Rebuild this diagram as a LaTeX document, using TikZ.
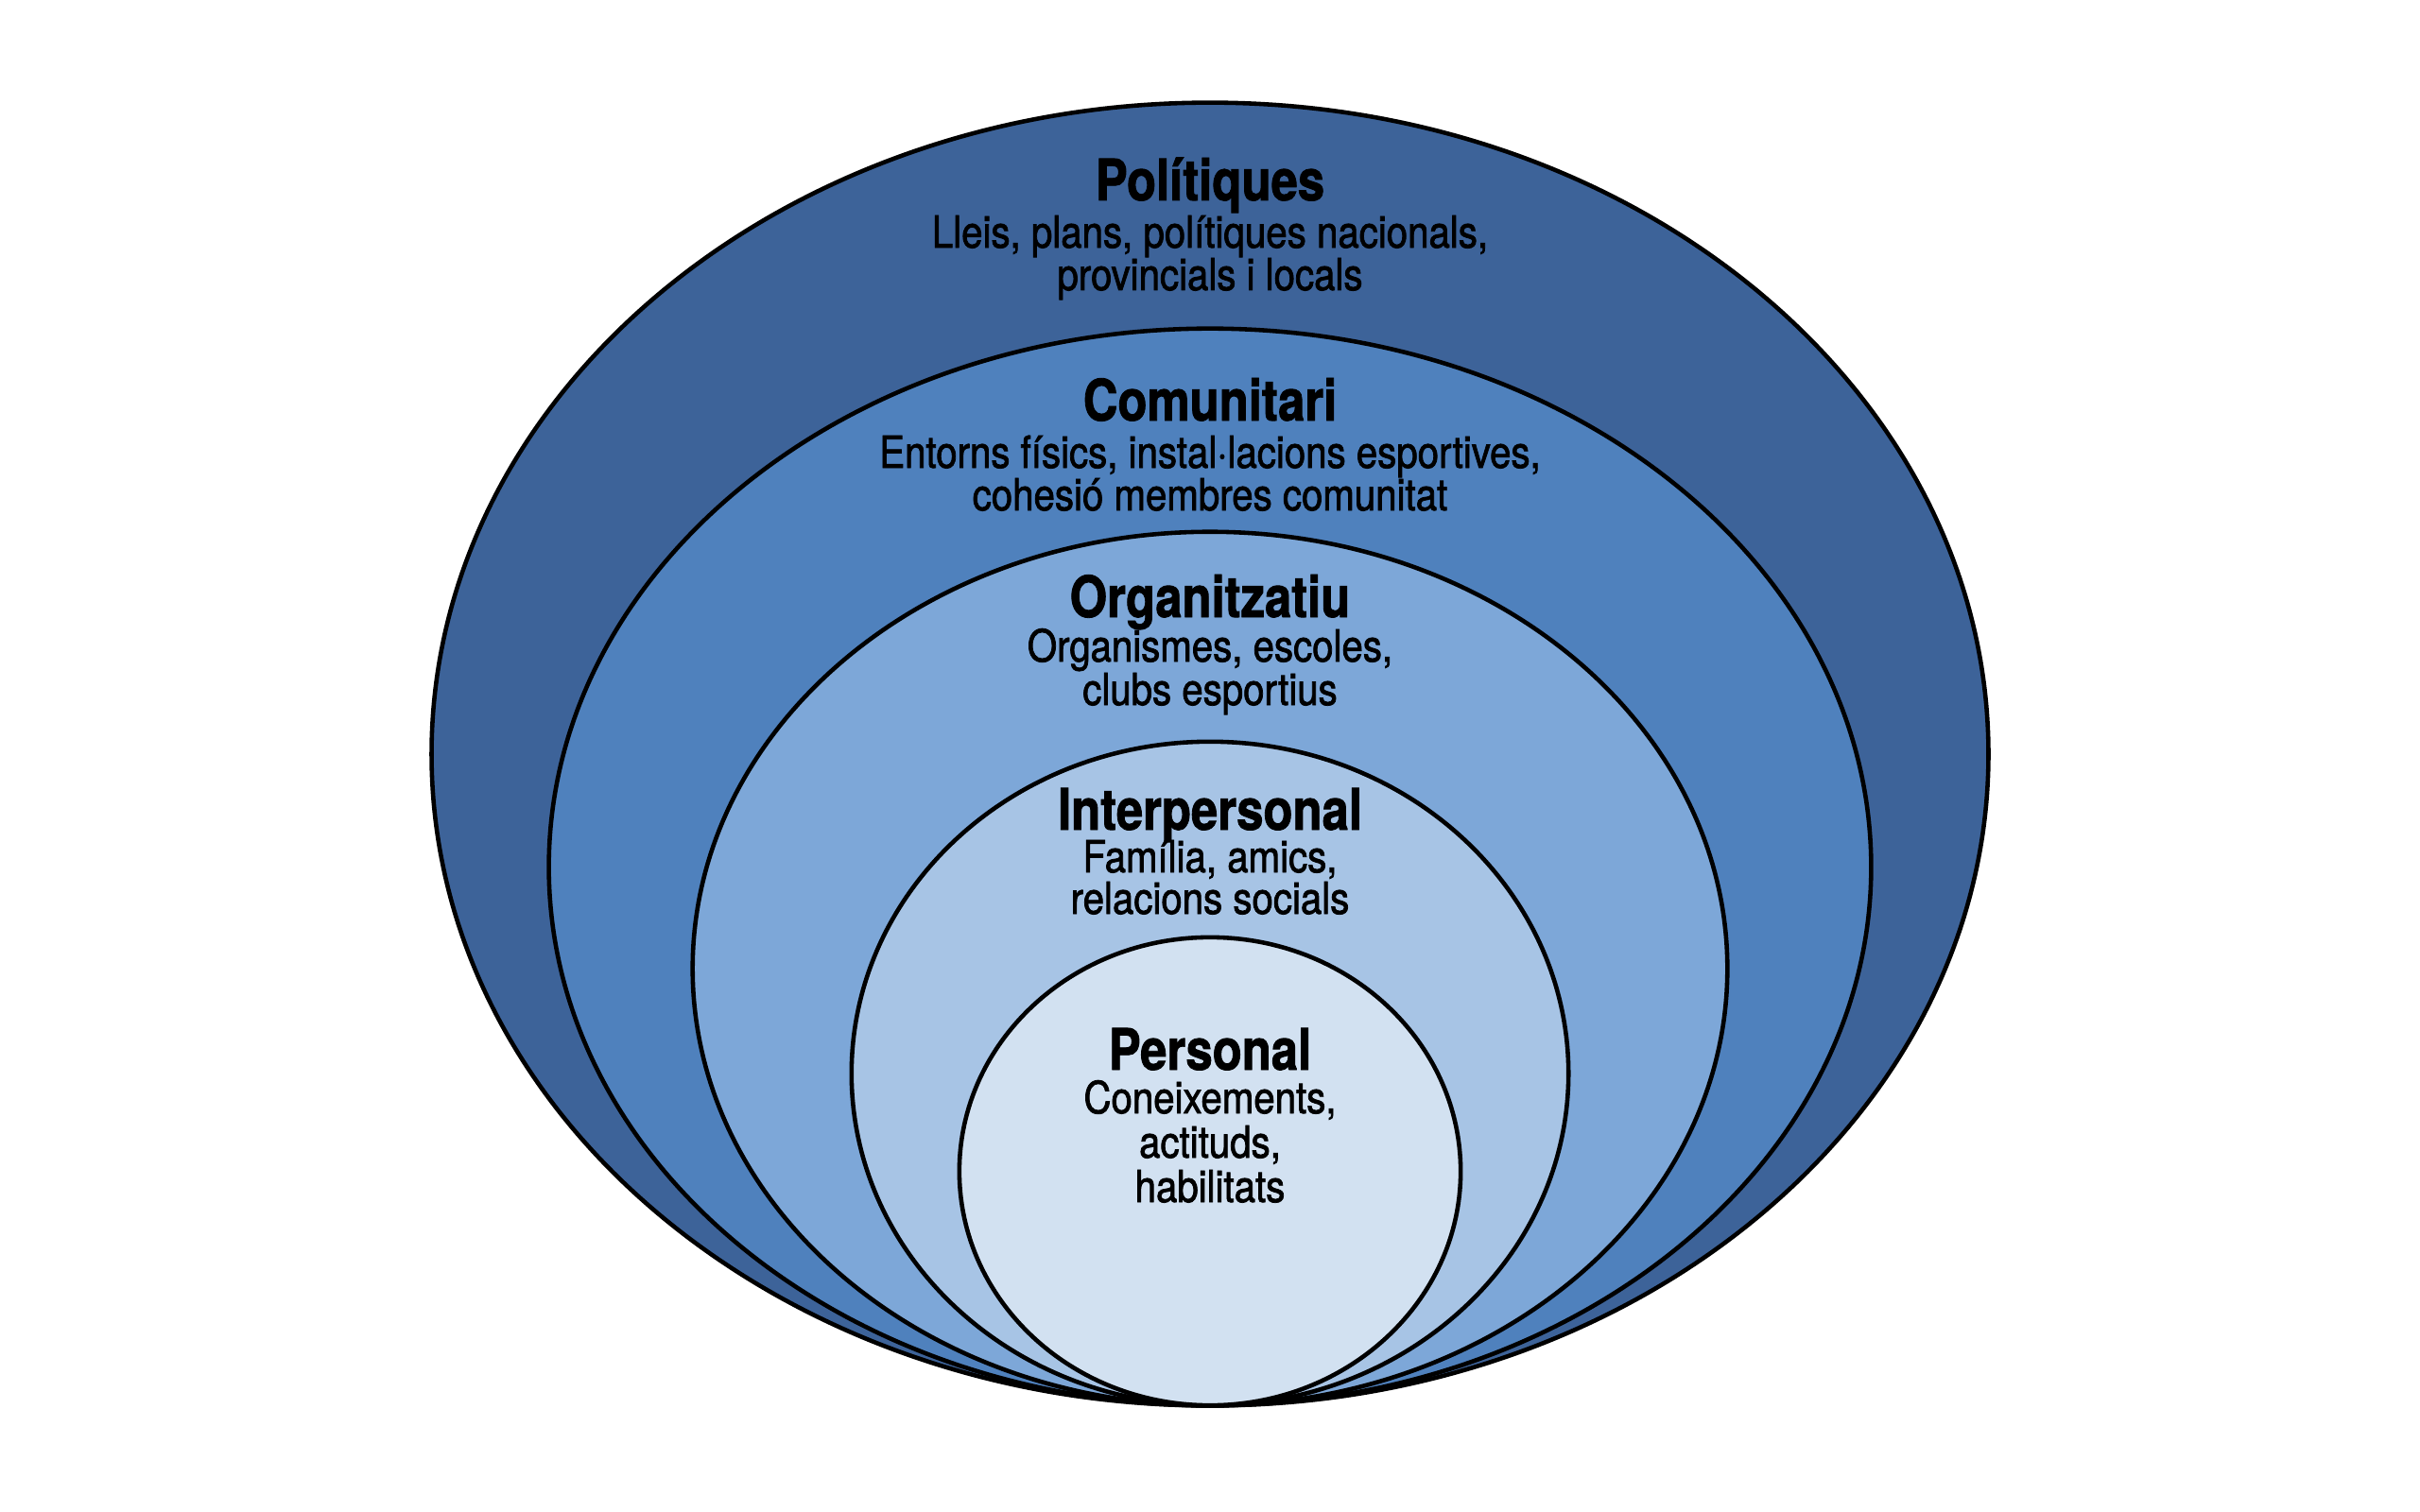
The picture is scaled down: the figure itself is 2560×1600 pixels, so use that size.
\documentclass[tikz,border=0pt]{standalone}
\usepackage{fontspec}
\setmainfont[FakeStretch=0.86]{TeX Gyre Heros}
\newfontfamily\subfam[FakeStretch=0.86,FakeBold=1.6]{TeX Gyre Heros}
\newfontfamily\ttlfam[FakeStretch=0.84,FakeBold=1.4,UprightFont=*,BoldFont=*]{TeX Gyre Heros Bold}
\usetikzlibrary{shapes.geometric}
\definecolor{lay1}{RGB}{61,99,153}
\definecolor{lay2}{RGB}{79,129,189}
\definecolor{lay3}{RGB}{125,167,216}
\definecolor{lay4}{RGB}{167,196,229}
\definecolor{lay5}{RGB}{210,225,241}
\tikzset{
  layer/.style={ellipse, draw=black, line width=1.3pt, inner sep=0pt},
  ttl/.style={anchor=base, inner sep=0pt, font=\ttlfam\fontsize{17.2}{20}\selectfont},
  sub/.style={anchor=base, inner sep=0pt, font=\subfam\fontsize{13.3}{15}\selectfont},
}
\begin{document}
\begin{tikzpicture}[x=0.01cm, y=-0.01cm]
\useasboundingbox (0,0) rectangle (2560,1600);
\node[layer, fill=lay1, minimum width=16.46cm, minimum height=13.78cm] (e1) at (1280,798) {};
\node[layer, fill=lay2, minimum width=13.98cm, minimum height=11.39cm] (e2) at (1280,917.5) {};
\node[layer, fill=lay3, minimum width=10.94cm, minimum height=9.24cm] (e3) at (1280,1025) {};
\node[layer, fill=lay4, minimum width=7.58cm, minimum height=7.02cm] (e4) at (1280,1136) {};
\node[layer, fill=lay5, minimum width=5.30cm, minimum height=4.95cm] (e5) at (1280,1239.5) {};

\node[ttl] (t1) at (1280,212) {Polítiques};
\node[sub] (s1a) at (1280,262) {Lleis, plans, polítiques nacionals,};
\node[sub] (s1b) at (1280,307) {provincials i locals};

\node[ttl] (t2) at (1280,445) {Comunitari};
\node[sub] (s2a) at (1280,495) {Entorns físics, instal·lacions esportives,};
\node[sub] (s2b) at (1280,540) {cohesió membres comunitat};

\node[ttl] (t3) at (1280,653) {Organitzatiu};
\node[sub] (s3a) at (1280,700) {Organismes, escoles,};
\node[sub] (s3b) at (1280,746) {clubs esportius};

\node[ttl] (t4) at (1280,878) {Interpersonal};
\node[sub] (s4a) at (1280,923) {Família, amics,};
\node[sub] (s4b) at (1280,967) {relacions socials};

\node[ttl] (t5) at (1280,1132) {Personal};
\node[sub] (s5a) at (1280,1178) {Coneixements,};
\node[sub] (s5b) at (1280,1225) {actituds,};
\node[sub] (s5c) at (1280,1272) {habilitats};
\end{tikzpicture}
\end{document}
